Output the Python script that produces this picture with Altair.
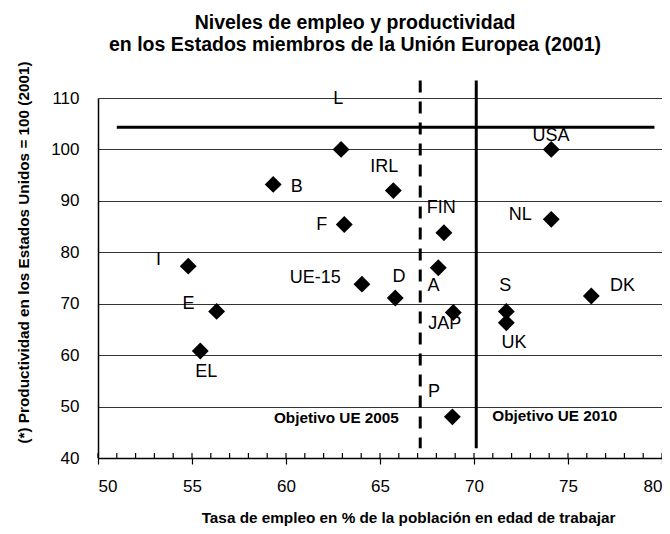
import altair as alt
import pandas as pd

# ---- data ----
emp = [62.93, 59.32, 65.71, 63.10, 68.40, 74.11, 74.11, 54.80, 68.10, 64.04,
       65.81, 76.24, 56.31, 68.90, 71.72, 71.72, 55.44, 68.85]
prod = [100.0, 93.2, 92.0, 85.4, 83.8, 86.4, 100.0, 77.3, 77.0, 73.8,
        71.1, 71.5, 68.5, 68.3, 68.5, 66.3, 60.8, 48.0]

label_text = ["L", "USA", "IRL", "B", "F", "FIN", "NL", "I", "UE-15", "D",
              "A", "S", "DK", "E", "JAP", "UK", "EL", "P"]
label_x = [62.78, 74.09, 65.23, 60.57, 61.90, 68.26, 72.46, 53.22, 61.56, 66.01,
           67.84, 71.66, 77.90, 54.82, 68.44, 72.13, 55.76, 67.87]
label_y = [109.9, 102.6, 96.6, 92.6, 85.4, 88.7, 87.2, 78.5, 75.0, 75.2,
           73.4, 73.4, 73.4, 69.9, 66.0, 62.3, 56.8, 52.8]

target_text = ["Objetivo UE 2005", "Objetivo UE 2010"]
target_x = [62.68, 74.30]
target_y = [47.7, 48.2]

us_line_y = 104.3
us_line_x = [51.0, 79.6]
target_2005 = 67.14
target_2010 = 70.12
vline_top = 113.4
vline_bottom = 41.9

x_ticks = [50, 55, 60, 65, 70, 75, 80]
x_minor = list(range(50, 81))
y_ticks = [40, 50, 60, 70, 80, 90, 100, 110]

FONT = "Liberation Sans, Arial, sans-serif"

xs = alt.Scale(domain=[50, 80], nice=False, zero=False)
ys = alt.Scale(domain=[40, 110], nice=False, zero=False)

x_axis = alt.Axis(
    values=x_ticks, grid=False, ticks=True, tickSize=6, tickColor="black", tickWidth=1.2,
    domainColor="black", domainWidth=1.5,
    labelFont=FONT, labelFontSize=17, labelColor="black", labelPadding=14,
    title="Tasa de empleo en % de la población en edad de trabajar",
    titleFont=FONT, titleFontSize=15.3, titleFontWeight="bold", titleColor="black",
    titleX=310, titleY=64, titleAlign="center", titleBaseline="alphabetic",
)
y_axis = alt.Axis(
    values=y_ticks, grid=True, gridColor="#333333", gridWidth=1, ticks=False,
    domainColor="black", domainWidth=1.5,
    labelFont=FONT, labelFontSize=17, labelColor="black", labelPadding=19,
    title="(*) Productividad en los Estados Unidos = 100 (2001)",
    titleFont=FONT, titleFontSize=15.3, titleFontWeight="bold", titleColor="black",
    titleAngle=270, titleX=-70, titleY=154, titleAlign="center", titleBaseline="alphabetic",
)


def X(field="x"):
    return alt.X(f"{field}:Q", scale=xs, axis=x_axis)


def Y(field="y"):
    return alt.Y(f"{field}:Q", scale=ys, axis=y_axis)


pts = pd.DataFrame({"x": emp, "y": prod})
labs = pd.DataFrame({"x": label_x, "y": label_y, "t": label_text})
tgt = pd.DataFrame({"x": target_x, "y": target_y, "t": target_text})
hline = pd.DataFrame({"x": [us_line_x[0]], "x2": [us_line_x[1]], "y": [us_line_y]})
vdash = pd.DataFrame({"x": [target_2005], "y": [vline_top], "y2": [vline_bottom]})
vsolid = pd.DataFrame({"x": [target_2010], "y": [vline_top], "y2": [vline_bottom]})
minor = pd.DataFrame({"x": x_minor, "y": [40.0] * len(x_minor), "y2": [40.97] * len(x_minor)})

points = alt.Chart(pts).mark_point(
    shape="diamond", filled=True, size=285, color="black", opacity=1
).encode(x=X(), y=Y())

minor_ticks = alt.Chart(minor).mark_rule(color="black", strokeWidth=1.2).encode(
    x=X(), y=Y(), y2="y2:Q",
)

us_line = alt.Chart(hline).mark_rule(color="black", strokeWidth=3).encode(
    x=X(), x2="x2:Q", y=Y(),
)

dash_line = alt.Chart(vdash).mark_rule(color="black", strokeWidth=3, strokeDash=[12, 9]).encode(
    x=X(), y=Y(), y2="y2:Q",
)

solid_line = alt.Chart(vsolid).mark_rule(color="black", strokeWidth=3).encode(
    x=X(), y=Y(), y2="y2:Q",
)

labels = alt.Chart(labs).mark_text(
    font=FONT, fontSize=18, color="black", align="center", baseline="middle"
).encode(x=X(), y=Y(), text="t:N")

targets = alt.Chart(tgt).mark_text(
    font=FONT, fontSize=15.3, fontWeight="bold", color="black", align="center", baseline="middle"
).encode(x=X(), y=Y(), text="t:N")

chart = alt.layer(
    minor_ticks, us_line, dash_line, solid_line, points, labels, targets
).properties(
    width=564,
    height=360,
    autosize=alt.AutoSizeParams(type="none"),
    padding={"left": 90, "top": 90, "right": 0, "bottom": 68},
    background="white",
    title=alt.TitleParams(
        text=["Niveles de empleo y productividad",
              "en los Estados miembros de la Unión Europea (2001)"],
        font=FONT, fontSize=19.5, fontWeight="bold", color="black",
        anchor="middle", dx=-25, lineHeight=22.6, offset=10, dy=5,
    ),
).configure_view(stroke=None)

chart.save("out.html", embed_options={"renderer": "svg", "actions": False})
